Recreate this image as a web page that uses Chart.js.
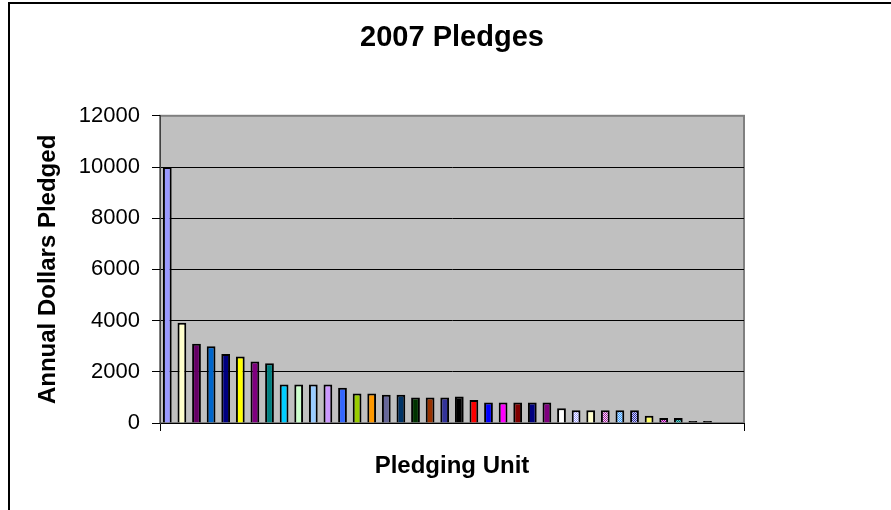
<!DOCTYPE html>
<html>
<head>
<meta charset="utf-8">
<title>2007 Pledges</title>
<script src="https://cdn.jsdelivr.net/npm/chart.js@4.4.1/dist/chart.umd.min.js"></script>
<style>
  html, body { margin: 0; padding: 0; background: #fff; }
  #wrap { position: relative; width: 891px; height: 510px; }
</style>
</head>
<body>
<div id="wrap"><canvas id="pledgeChart"></canvas></div>
<script>
// One slot per pledging unit (names are not shown on the chart, last two slots are empty)
const units = ['U1', 'U2', 'U3', 'U4', 'U5', 'U6', 'U7', 'U8', 'U9', 'U10',
  'U11', 'U12', 'U13', 'U14', 'U15', 'U16', 'U17', 'U18', 'U19', 'U20',
  'U21', 'U22', 'U23', 'U24', 'U25', 'U26', 'U27', 'U28', 'U29', 'U30',
  'U31', 'U32', 'U33', 'U34', 'U35', 'U36', 'U37', 'U38', 'U39', 'U40'];

// Annual dollars pledged
const pledges = [10000, 3920, 3100, 3000, 2700, 2600, 2400, 2330, 1500, 1500,
  1500, 1500, 1380, 1150, 1150, 1100, 1100, 1000, 1000, 1000,
  1040, 900, 800, 800, 800, 800, 800, 580, 500, 500,
  500, 500, 500, 280, 200, 200, 80, 80];

const yTicks = [0, 2000, 4000, 6000, 8000, 10000, 12000];

const FONT = "'Liberation Sans', Arial, Helvetica, sans-serif";

// small two-colour checker fill, like the Excel pattern fills
function checker(a, b) {
  const c = document.createElement('canvas');
  c.width = 2;
  c.height = 2;
  const g = c.getContext('2d');
  g.fillStyle = a;
  g.fillRect(0, 0, 2, 2);
  g.fillStyle = b;
  g.fillRect(0, 0, 1, 1);
  g.fillRect(1, 1, 1, 1);
  return g.createPattern(c, 'repeat');
}

const barColors = [
  '#9999FF', '#FFFFCC', '#660066', '#0066CC', '#000080', '#FFFF00', '#800080', '#008080',
  '#00CCFF', '#CCFFCC', '#99CCFF', '#CC99FF', '#3366FF', '#99CC00', '#FF9900', '#666699',
  '#003366', '#003300', '#993300', '#333399', '#000000', '#FF0000', '#0000FF', '#FF00FF',
  '#800000', '#000080', '#800080', '#FFFFFF',
  checker('#FFFFFF', '#9999FF'), '#FFFFCC', checker('#FFCCFF', '#993399'),
  checker('#CCE6FF', '#3399FF'), checker('#CCCCFF', '#333399'), '#FFFF66',
  checker('#FF99FF', '#800080'), checker('#66CCCC', '#006666'), '#000000', '#000000'
];

// white page, outer frame and grey plot area
const frame = {
  id: 'frame',
  beforeDraw(chart) {
    const ctx = chart.ctx;
    const a = chart.chartArea;
    ctx.save();
    ctx.fillStyle = '#fff';
    ctx.fillRect(0, 0, chart.width, chart.height);
    ctx.fillStyle = '#000';
    ctx.fillRect(8, 2, 2, chart.height - 2);
    ctx.fillRect(8, 2, chart.width - 8, 2);
    ctx.fillStyle = '#c0c0c0';
    ctx.fillRect(a.left, a.top, a.right - a.left, a.bottom - a.top);
    ctx.strokeStyle = '#808080';
    ctx.lineWidth = 2;
    ctx.strokeRect(a.left, a.top, a.right - a.left, a.bottom - a.top);
    ctx.restore();
  }
};

const ctx = document.getElementById('pledgeChart').getContext('2d');
const pledgeChart = new Chart(ctx, {
  type: 'bar',
  data: {
    labels: units,
    datasets: [{
      label: 'Annual Dollars Pledged',
      data: pledges,
      backgroundColor: barColors,
      borderColor: '#000',
      borderWidth: 2,
      barPercentage: 0.6,
      categoryPercentage: 1
    }]
  },
  options: {
    responsive: true,
    maintainAspectRatio: false,
    animation: false,
    layout: {
      padding: { left: 0, right: 147, top: 0, bottom: 0 }
    },
    plugins: {
      legend: { display: false },
      title: {
        display: true,
        text: '2007 Pledges',
        fullSize: false,
        color: '#000',
        font: { family: FONT, size: 29, weight: 'bold' },
        padding: { top: 21, bottom: 60 }
      }
    },
    scales: {
      x: {
        offset: true,
        grid: {
          offset: true,
          drawOnChartArea: false,
          tickLength: 8,
          // only the two end tick marks are drawn
          color: c => (c.index === 0 || c.type !== 'tick') ? '#000' : 'rgba(0,0,0,0)'
        },
        border: { color: '#000', width: 1 },
        ticks: { display: false },
        title: {
          display: true,
          text: 'Pledging Unit',
          color: '#000',
          font: { family: FONT, size: 24, weight: 'bold' },
          padding: { top: 0, bottom: 29 }
        },
        afterFit: s => { s.height = 87; }
      },
      y: {
        min: 0,
        max: 12000,
        afterBuildTicks: s => { s.ticks = yTicks.map(v => ({ value: v })); },
        grid: {
          color: c => c.tick && c.tick.value === 12000 ? '#808080' : '#000',
          tickColor: '#000',
          tickLength: 8,
          lineWidth: 1
        },
        border: { color: '#404040', width: 1 },
        ticks: {
          color: '#000',
          padding: 12,
          font: { family: FONT, size: 22 },
          callback: v => String(v)
        },
        title: {
          display: true,
          text: 'Annual Dollars Pledged',
          color: '#000',
          font: { family: FONT, size: 24, weight: 'bold' },
          padding: { top: 34, bottom: 0 }
        },
        afterFit: s => { s.width = 160; }
      }
    }
  },
  plugins: [frame]
});
</script>
</body>
</html>
